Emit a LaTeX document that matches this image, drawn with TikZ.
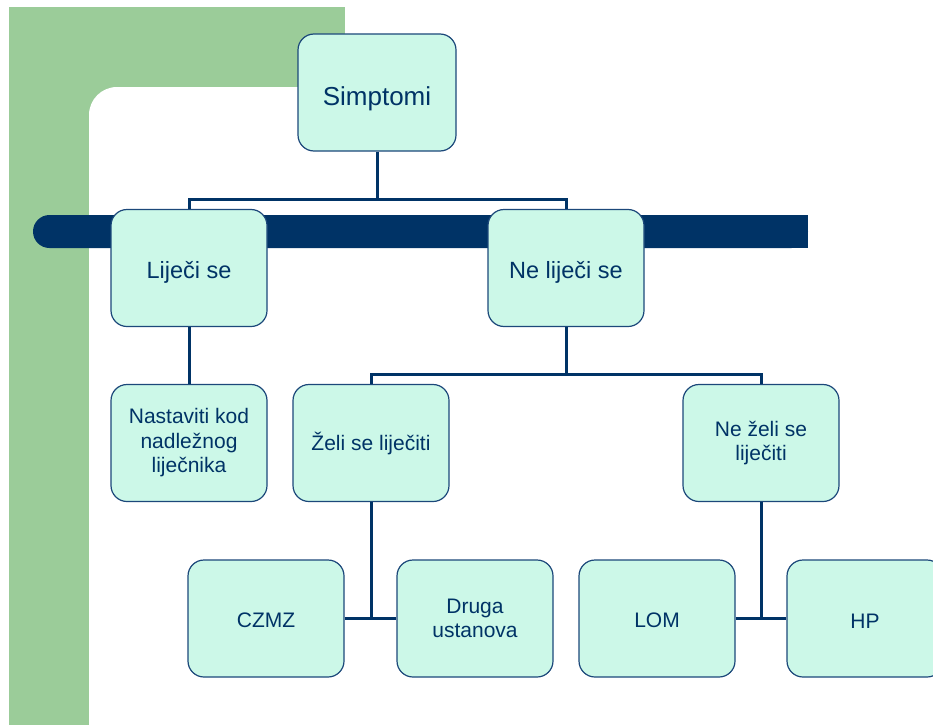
\documentclass[tikz,border=0pt]{standalone}
\usepackage{fontspec}
\setmainfont{Liberation Sans}
\definecolor{navy}{RGB}{0,51,102}
\definecolor{boxline}{RGB}{28,72,122}
\definecolor{mint}{RGB}{204,248,232}
\definecolor{leaf}{RGB}{155,204,153}

\begin{document}
\begin{tikzpicture}[x=1pt,y=-1pt,
    box/.style={draw=boxline,line width=1.2pt,fill=mint,rounded corners=16pt,
        minimum width=156pt,minimum height=117pt,align=center,text=navy,
        font=\fontsize{21}{24.5}\selectfont,
        execute at begin node={\rule{0pt}{19pt}}},
    bigbox/.style={box,font=\fontsize{23.5}{27}\selectfont,
        execute at begin node={\rule{0pt}{26pt}}},
    topbox/.style={box,minimum width=158pt,font=\fontsize{26}{30}\selectfont,
        execute at begin node={\rule{0pt}{31pt}}},
    conn/.style={navy,line width=3pt}]
    \clip (0,0) rectangle (933,725);
    % background ============================================
    \fill[leaf] (9,7) rectangle (345,117);
    \fill[leaf] (9,7) rectangle (117,725);
    \fill[white,rounded corners=28pt] (89,87) rectangle (420,800);
    \fill[navy,rounded corners=16.5pt] (33,215) rectangle (808,248);
    \fill[navy] (80,215) rectangle (808,248);
    % boxes =================================================
    \node[topbox] (simp)   at (377,92.5)  {Simptomi};
    \node[bigbox] (lij)    at (189,268)   {Liječi se};
    \node[bigbox] (nelij)  at (566,268)   {Ne liječi se};
    \node[box]    (nast)   at (189,443)   {Nastaviti kod\\nadležnog\\liječnika};
    \node[box]    (zeli)   at (371,443)   {Želi se liječiti};
    \node[box]    (nezeli) at (761,443)   {Ne želi se\\liječiti};
    \node[box]    (czmz)   at (266,618.5) {CZMZ};
    \node[box]    (druga)  at (475,618.5) {Druga\\ustanova};
    \node[box]    (lom)    at (657,618.5) {LOM};
    \node[box]    (hp)     at (865,618.5) {HP};
    % connectors ============================================
    \coordinate (j1) at (377,199);
    \coordinate (j2) at (566,374);
    \coordinate (j3) at (371,618.5);
    \coordinate (j4) at (761,618.5);
    \draw[conn] (simp) -- (j1); \draw[conn] (j1) -| (lij); \draw[conn] (j1) -| (nelij);
    \draw[conn] (lij) -- (nast);
    \draw[conn] (nelij) -- (j2); \draw[conn] (j2) -| (zeli); \draw[conn] (j2) -| (nezeli);
    \draw[conn] (zeli) -- (j3); \draw[conn] (czmz) -- (druga);
    \draw[conn] (nezeli) -- (j4); \draw[conn] (lom) -- (hp);
\end{tikzpicture}
\end{document}
